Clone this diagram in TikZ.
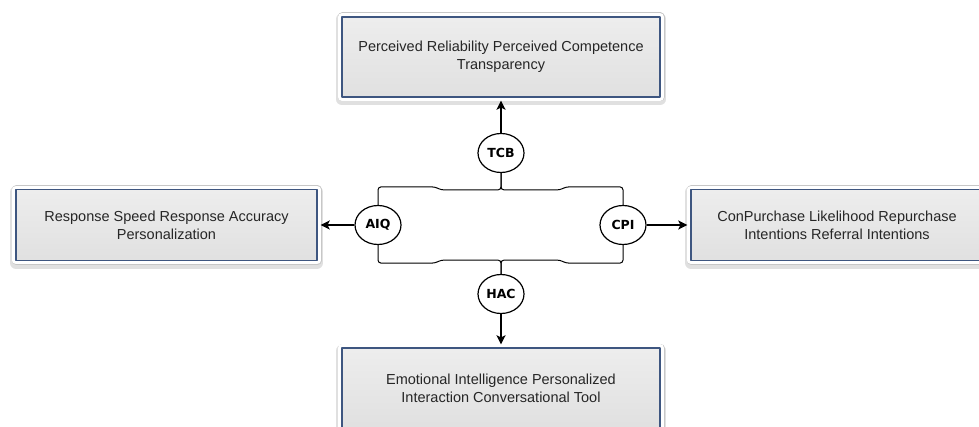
\documentclass[tikz,border=0pt]{standalone}
\usepackage{fontspec}
\setmainfont{Liberation Sans}
\newfontfamily\circfont{DejaVu Sans}
\usetikzlibrary{shapes.geometric,arrows.meta}
\definecolor{framecol}{RGB}{62,86,128}

\begin{document}
\begin{tikzpicture}[x=1pt, y=1pt, node distance=96pt, >={Stealth[length=9pt,width=9pt,inset=2pt]},
    block/.style={rectangle, draw=framecol, line width=1.3pt, top color=black!7, bottom color=black!12, minimum width=318pt, minimum height=80pt, align=center, text=black!85, font=\fontsize{14.5}{18}\selectfont, line join=round,
        preaction={draw=black!12, line width=12pt, line join=round, transform canvas={yshift=-2.5pt}},
        preaction={draw=black!22, line width=9pt, line join=round},
        preaction={draw=white, line width=7.5pt, line join=round}},
    sidebox/.style={block, minimum height=71pt},
    varnode/.style={ellipse, draw, line width=1.2pt, fill=white, minimum width=46pt, minimum height=39pt, inner sep=0pt, font=\circfont\bfseries\fontsize{12.5}{13}\selectfont},
    link/.style={line width=1pt, rounded corners=3pt},
    effect/.style={->, line width=1.8pt, shorten >=3pt}]

    \useasboundingbox (0,0) rectangle (979,-427);

    \node[coordinate] (hub) at (501,-225) {};
    \node[varnode, above of=hub, node distance=72pt] (TCB) {TCB};
    \node[varnode, left of=hub, node distance=123pt] (AIQ) {AIQ};
    \node[varnode, right of=hub, node distance=122pt] (CPI) {CPI};
    \node[varnode, below of=hub, node distance=69pt] (HAC) {HAC};

    \node[block, above of=TCB] (trust) {Perceived Reliability Perceived Competence\\Transparency};
    \node[sidebox, left of=AIQ, node distance=211.5pt, minimum width=301pt] (quality) {Response Speed Response Accuracy\\Personalization};
    \node[sidebox, right of=CPI, node distance=214pt, minimum width=292pt] (purchase) {ConPurchase Likelihood Repurchase\\Intentions Referral Intentions};
    \node[block, below of=HAC, node distance=94pt] (human) {Emotional Intelligence Personalized\\Interaction Conversational Tool};

    % brace shaped links between the four constructs
    \draw[link] (AIQ.north) -- ++(0,18) -- ++(57,0) -- ++(6,-3) -| (TCB.south);
    \draw[link] (CPI.north) -- ++(0,18) -- ++(-57,0) -- ++(-6,-3) -| (TCB.south);
    \draw[link] (AIQ.south) -- ++(0,-18) -- ++(57,0) -- ++(6,3) -| (HAC.north);
    \draw[link] (CPI.south) -- ++(0,-18) -- ++(-57,0) -- ++(-6,3) -| (HAC.north);

    \draw[effect] (TCB) -- (trust);
    \draw[effect] (AIQ) -- (quality);
    \draw[effect] (CPI) -- (purchase);
    \draw[effect] (HAC) -- (human);
\end{tikzpicture}
\end{document}
